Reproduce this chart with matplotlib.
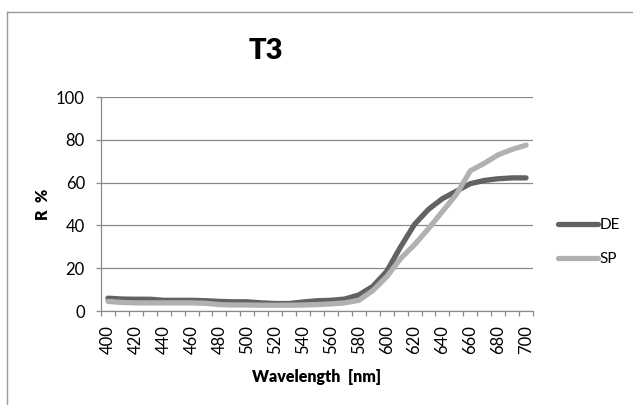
import matplotlib
matplotlib.use("Agg")
import matplotlib.pyplot as plt
from matplotlib.lines import Line2D

plt.rcParams['font.family'] = ['Lato', 'DejaVu Sans']

# reflectance spectra, 400-700 nm in 10 nm steps
wavelengths = list(range(400, 701, 10))
de_values = [6.0, 5.6, 5.5, 5.5, 5.0, 5.0, 5.0, 4.8, 4.5, 4.3,
             4.3, 3.8, 3.5, 3.5, 4.2, 4.8, 5.0, 5.6, 7.5, 11.5,
             18.5, 30.0, 40.5, 47.5, 52.5, 56.0, 59.5, 61.0, 61.8, 62.2, 62.2]
sp_values = [4.5, 4.0, 3.8, 3.8, 3.8, 3.8, 3.8, 3.6, 3.0, 2.8,
             2.8, 2.7, 2.7, 2.7, 2.8, 3.0, 3.3, 3.8, 5.0, 9.5,
             16.0, 24.5, 31.0, 38.5, 46.5, 54.5, 65.5, 69.0, 73.0, 75.5, 77.5]
series_names = ['DE', 'SP']
series_colors = ['#626262', '#b1b1b1']
y_ticks = [0, 20, 40, 60, 80, 100]

grey = '#8a8a8a'

fig = plt.figure(figsize=(6.33, 4.05), dpi=100)
ax = fig.add_axes([101 / 633, 1 - 311 / 405, 432 / 633, 214 / 405])

x = list(range(len(wavelengths)))
for vals, name, col in zip([de_values, sp_values], series_names, series_colors):
    ax.plot(x, vals, color=col, lw=3.8, label=name,
            solid_capstyle='round', solid_joinstyle='round')

ax.set_xlim(-0.5, len(wavelengths) - 0.5)
ax.set_ylim(0, 100)
ax.set_yticks(y_ticks)
ax.yaxis.grid(True, color=grey, lw=0.9)
ax.set_axisbelow(True)

# category axis: labels every 20 nm, tick marks between categories
ax.set_xticks(x[::2])
ax.set_xticklabels([str(w) for w in wavelengths[::2]], rotation=90, fontsize=12)
ax.set_xticks([i - 0.5 for i in range(len(wavelengths) + 1)], minor=True)
ax.tick_params(axis='x', which='major', length=0, pad=10)
ax.tick_params(axis='x', which='minor', length=3.6, color=grey, width=0.9)
ax.tick_params(axis='y', length=3.6, color=grey, width=0.9, labelsize=12, pad=8)

for s in ['top', 'right']:
    ax.spines[s].set_visible(False)
for s in ['left', 'bottom']:
    ax.spines[s].set_color(grey)
    ax.spines[s].set_linewidth(0.9)

ax.set_xlabel('Wavelength  [nm]', fontsize=11.5, fontweight='heavy', va='center')
ax.xaxis.set_label_coords(0.5, -0.308)
ax.set_ylabel('R  %', fontsize=11.5, fontweight='heavy', va='center')
ax.yaxis.set_label_coords(-0.134, 0.5)

fig.text(266 / 633, 1 - 51 / 405, 'T3', fontsize=21, fontweight='heavy',
         ha='center', va='center')

ax.legend(loc='center left', bbox_to_anchor=(558 / 633, 1 - 242 / 405),
          bbox_transform=fig.transFigure, frameon=False, fontsize=11,
          handlelength=2.6, handletextpad=0.1, labelspacing=1.3,
          borderpad=0, borderaxespad=0)

# chart area border (right and bottom edges fall outside the picture)
fig.add_artist(Line2D([7 / 633, 7 / 633], [0, 1 - 12 / 405], color='#9a9a9a', lw=1))
fig.add_artist(Line2D([7 / 633, 1], [1 - 12 / 405, 1 - 12 / 405], color='#9a9a9a', lw=1))

fig.savefig('out.png', dpi=100)
